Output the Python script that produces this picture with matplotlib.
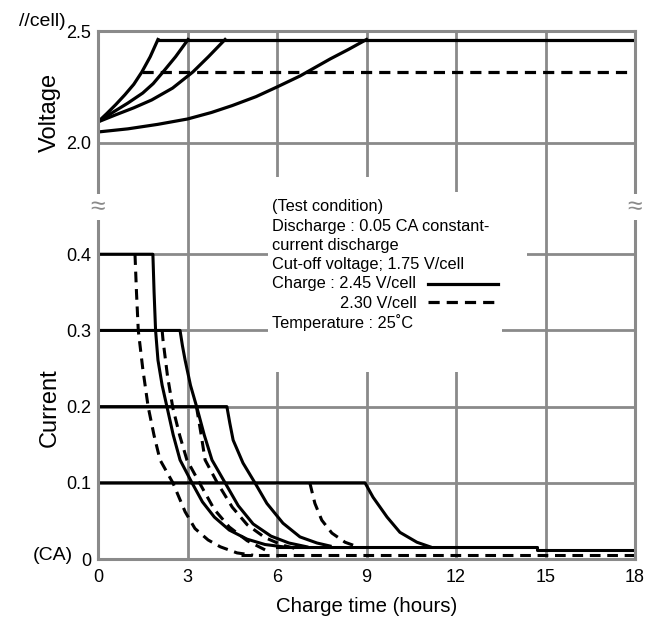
import matplotlib
matplotlib.use("Agg")
import matplotlib.pyplot as plt
from matplotlib.patches import Rectangle

plt.rcParams['font.family'] = ['Liberation Sans Narrow', 'Liberation Sans', 'DejaVu Sans']

GRID = '#8a8a8a'
W, H = 655, 620

# ---- data ----
x_ticks = [0, 3, 6, 9, 12, 15, 18]
v_ticks = [2.0, 2.5]
i_ticks = [0, 0.1, 0.2, 0.3, 0.4]
i_labels = ['0', '0.1', '0.2', '0.3', '0.4']

# charge voltage (V/cell), one curve per charge current
volt_t_04 = [0, 0.3, 0.6, 0.9, 1.2, 1.47, 1.75, 2.01]
volt_v_04 = [2.094, 2.132, 2.172, 2.215, 2.262, 2.317, 2.385, 2.462]
volt_t_03 = [0, 0.5, 1.0, 1.5, 1.85, 2.18, 2.6, 3.02]
volt_v_03 = [2.094, 2.137, 2.178, 2.223, 2.265, 2.317, 2.385, 2.462]
volt_t_02 = [0, 0.6, 1.2, 1.8, 2.5, 3.18, 3.7, 4.26]
volt_v_02 = [2.094, 2.126, 2.157, 2.192, 2.245, 2.317, 2.385, 2.462]
volt_t_01 = [0, 1.0, 2.0, 3.0, 3.8, 4.5, 5.3, 6.0, 6.77, 7.78, 8.4, 9.0]
volt_v_01 = [2.049, 2.063, 2.083, 2.107, 2.136, 2.167, 2.207, 2.25, 2.299, 2.375, 2.418, 2.462]
volt_hi_t = [2.01, 18]       # 2.45 V/cell plateau
volt_hi_v = [2.462, 2.462]
volt_lo_t = [1.47, 18]       # 2.30 V/cell plateau
volt_lo_v = [2.317, 2.317]

# charge current (CA), 2.45 V/cell
cur_t_04s = [0, 1.84, 1.88, 1.93, 2.01, 2.15, 2.31, 2.52, 2.75, 3.15, 3.5, 3.9, 4.4, 5.0, 5.6, 6.2]
cur_i_04s = [0.4, 0.4, 0.35, 0.3, 0.261, 0.228, 0.2, 0.163, 0.13, 0.1, 0.075, 0.055, 0.038, 0.026, 0.019, 0.016]
cur_t_03s = [0, 2.75, 2.83, 2.92, 3.1, 3.32, 3.56, 3.82, 4.26, 4.7, 5.2, 5.8, 6.4, 7.0]
cur_i_03s = [0.3, 0.3, 0.28, 0.261, 0.228, 0.198, 0.163, 0.13, 0.1, 0.07, 0.046, 0.03, 0.021, 0.016]
cur_t_02s = [0, 4.32, 4.42, 4.53, 4.86, 5.26, 5.66, 6.2, 6.77, 7.34, 7.78]
cur_i_02s = [0.2, 0.2, 0.178, 0.156, 0.126, 0.1, 0.073, 0.047, 0.029, 0.021, 0.017]
cur_t_01s = [0, 8.95, 9.22, 9.69, 10.12, 10.69, 11.13]
cur_i_01s = [0.1, 0.1, 0.081, 0.055, 0.035, 0.022, 0.016]
floor_t_s = [6.0, 14.7, 14.7, 18]
floor_i_s = [0.016, 0.016, 0.012, 0.012]

# charge current (CA), 2.30 V/cell
cur_t_04d = [1.24, 1.29, 1.35, 1.5, 1.68, 1.88, 2.08, 2.51, 2.92, 3.25, 3.69, 4.1, 4.66, 5.2]
cur_i_04d = [0.4, 0.35, 0.3, 0.25, 0.2, 0.162, 0.13, 0.1, 0.062, 0.040, 0.025, 0.016, 0.008, 0.005]
cur_t_03d = [2.15, 2.18, 2.33, 2.51, 2.74, 2.98, 3.4, 3.9, 4.4, 5.0, 5.6]
cur_i_03d = [0.3, 0.287, 0.24, 0.198, 0.162, 0.13, 0.1, 0.065, 0.042, 0.024, 0.012]
cur_t_02d = [3.3, 3.45, 3.59, 4.0, 4.5, 5.0, 5.6, 6.2, 6.8]
cur_i_02d = [0.2, 0.165, 0.13, 0.1, 0.068, 0.045, 0.028, 0.018, 0.012]
cur_t_01d = [7.1, 7.27, 7.5, 7.84, 8.28, 8.7]
cur_i_01d = [0.1, 0.073, 0.051, 0.034, 0.022, 0.016]
floor_t_d = [4.8, 18]
floor_i_d = [0.005, 0.005]

conditions = [
    '(Test condition)',
    'Discharge : 0.05 CA constant-',
    'current discharge',
    'Cut-off voltage; 1.75 V/cell',
    'Charge : 2.45 V/cell',
    '2.30 V/cell',
    'Temperature : 25\u02daC',
]

DASH = (0, (3.5, 2.2))


def px_box(left, top, right, bottom):
    return [left / W, 1 - bottom / H, (right - left) / W, (bottom - top) / H]


fig = plt.figure(figsize=(6.55, 6.2), dpi=100)
ax_v = fig.add_axes(px_box(98, 31, 635, 207))
ax_i = fig.add_axes(px_box(98, 207, 635, 559))

for ax in (ax_v, ax_i):
    ax.set_xlim(0, 18)
    ax.set_xticks(x_ticks)
    ax.grid(True, color=GRID, lw=2.0)
    ax.set_axisbelow(True)
    ax.tick_params(length=0, labelsize=13, pad=5)
    for s in ax.spines.values():
        s.set_color(GRID)
        s.set_linewidth(2.2)

ax_v.spines['bottom'].set_visible(False)
ax_i.spines['top'].set_visible(False)

# top panel: voltage
ax_v.set_ylim(1.714, 2.5)
ax_v.set_yticks(v_ticks)
ax_v.set_yticklabels(['2.0', '2.5'])
ax_v.tick_params(labelbottom=False)
for t, v in [(volt_t_04, volt_v_04), (volt_t_03, volt_v_03),
             (volt_t_02, volt_v_02), (volt_t_01, volt_v_01),
             (volt_hi_t, volt_hi_v)]:
    ax_v.plot(t, v, color='black', lw=2.3, solid_joinstyle='round')
ax_v.plot(volt_lo_t, volt_lo_v, color='black', lw=2.3, ls=DASH)

# bottom panel: current
ax_i.set_ylim(0, 0.462)
ax_i.set_yticks(i_ticks)
ax_i.set_yticklabels(i_labels)
ax_i.tick_params(axis='x', pad=7)
for t, c in [(cur_t_04s, cur_i_04s), (cur_t_03s, cur_i_03s),
             (cur_t_02s, cur_i_02s), (cur_t_01s, cur_i_01s),
             (floor_t_s, floor_i_s)]:
    ax_i.plot(t, c, color='black', lw=2.2, solid_joinstyle='round')
for t, c in [(cur_t_04d, cur_i_04d), (cur_t_03d, cur_i_03d),
             (cur_t_02d, cur_i_02d), (cur_t_01d, cur_i_01d),
             (floor_t_d, floor_i_d)]:
    ax_i.plot(t, c, color='black', lw=2.2, ls=DASH)
ax_i.set_xticklabels([str(v) for v in x_ticks])
ax_i.set_xlabel('Charge time (hours)', fontsize=14.7, labelpad=8)

# axis captions
fig.text(50 / W, 1 - 112 / H, 'Voltage', rotation=90, fontsize=17,
         ha='center', va='center')
fig.text(50 / W, 1 - 408 / H, 'Current', rotation=90, fontsize=17,
         ha='center', va='center')
fig.text(66 / W, 1 - 21 / H, '//cell)', fontsize=14, ha='right', va='center')
fig.text(73 / W, 1 - 556 / H, '(CA)', fontsize=14, ha='right', va='center')

# axis break marks
for xp in (98, 635):
    fig.text(xp / W, 1 - 207 / H, '\u2248', fontsize=19, color=GRID,
             ha='center', va='center',
             bbox=dict(facecolor='white', edgecolor='none', pad=0.3))

# white area behind the test-condition note
for box in [(268, 177, 441, 372), (268, 192, 527, 300), (268, 192, 502, 372)]:
    l, tp, r, b = box
    fig.add_artist(Rectangle((l / W, 1 - b / H), (r - l) / W, (b - tp) / H,
                             transform=fig.transFigure, facecolor='white',
                             edgecolor='none', zorder=2))

line_gap = 19.2
for k, line in enumerate(conditions):
    xp = 340 if line == '2.30 V/cell' else 272
    fig.text(xp / W, 1 - (207 + k * line_gap) / H, line, fontsize=11.8,
             ha='left', va='center', zorder=3)

# legend keys
fig.add_artist(plt.Line2D([428 / W, 498 / W], [1 - 284 / H, 1 - 284 / H],
                          color='black', lw=2.3, zorder=3))
fig.add_artist(plt.Line2D([428 / W, 498 / W], [1 - 302 / H, 1 - 302 / H],
                          color='black', lw=2.3, ls=DASH, zorder=3))

fig.savefig('out.png', dpi=100)
